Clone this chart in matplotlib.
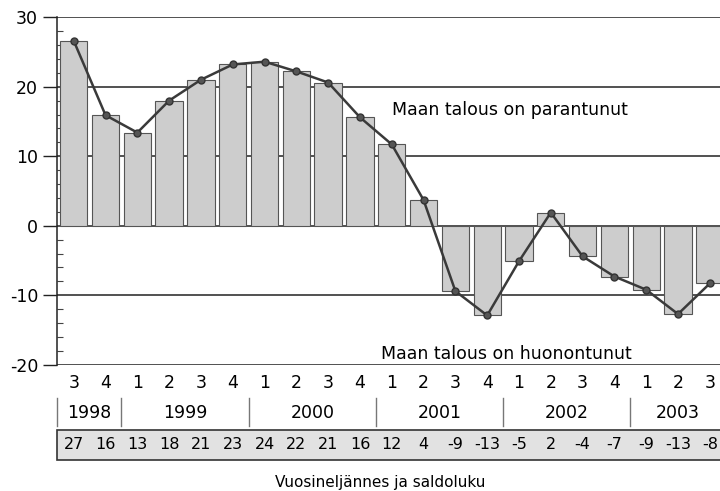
import matplotlib.pyplot as plt
from matplotlib.patches import Rectangle
from matplotlib.ticker import MultipleLocator
import matplotlib.transforms as mtransforms

plt.rcParams['font.family'] = ['Liberation Sans Narrow', 'DejaVu Sans']
plt.rcParams['axes.unicode_minus'] = False

quarters = [3, 4, 1, 2, 3, 4, 1, 2, 3, 4, 1, 2, 3, 4, 1, 2, 3, 4, 1, 2, 3]
years = ['1998', '1999', '2000', '2001', '2002', '2003']
year_centers = [0.5, 3.5, 7.5, 11.5, 15.5, 19.0]
year_breaks = [-0.53, 1.5, 5.5, 9.5, 13.5, 17.5]
saldo = [26.6, 15.9, 13.4, 18.0, 21.0, 23.2, 23.6, 22.2, 20.6, 15.6, 11.7, 3.7,
         -9.4, -12.9, -5.1, 1.9, -4.4, -7.3, -9.2, -12.7, -8.3]

x = list(range(len(saldo)))

fig = plt.figure(figsize=(7.2, 4.91), dpi=100)
ax = fig.add_axes([0.079, 0.257, 0.921, 0.708])

for y in [-20, -10, 0, 10, 20, 30]:
    ax.axhline(y, color='#222222', lw=1.1, zorder=0)

ax.bar(x, saldo, width=0.86, color='#cdcdcd', edgecolor='#555555', lw=0.8, zorder=2)
ax.plot(x, saldo, color='#3a3a3a', lw=1.8, marker='o', ms=5,
        markerfacecolor='#555555', markeredgecolor='#333333', zorder=3)

ax.set_xlim(-0.53, 20.32)
ax.set_ylim(-20, 30)
ax.yaxis.set_major_locator(MultipleLocator(10))
ax.yaxis.set_minor_locator(MultipleLocator(2))
ax.tick_params(axis='y', which='major', direction='out', length=10, width=1,
               labelsize=12.5, color='#222222')
ax.tick_params(axis='y', which='minor', direction='in', length=4, width=0.8,
               color='#444444')
ax.set_xticks([])
for s in ['top', 'right', 'bottom']:
    ax.spines[s].set_visible(False)
ax.spines['left'].set_color('#222222')
ax.spines['left'].set_linewidth(1.1)

ax.text(10.0, 16.7, 'Maan talous on parantunut', fontsize=12.5, va='center')
ax.text(9.65, -18.5, 'Maan talous on huonontunut', fontsize=12.5, va='center')

trans = mtransforms.blended_transform_factory(ax.transData, ax.transAxes)
for xi, q in zip(x, quarters):
    ax.text(xi, -0.052, str(q), transform=trans, ha='center', va='center',
            fontsize=12.5, clip_on=False)
for xc, yr in zip(year_centers, years):
    ax.text(xc, -0.138, yr, transform=trans, ha='center', va='center',
            fontsize=12.5, clip_on=False)
for xb in year_breaks:
    ax.plot([xb, xb], [-0.095, -0.175], transform=trans, color='#777777',
            lw=1, clip_on=False)

box = Rectangle((-0.53, -0.273), 21.5, 0.086, transform=trans,
                facecolor='#e2e2e2', edgecolor='#333333', lw=1.2, clip_on=False)
ax.add_patch(box)
for xi, v in zip(x, saldo):
    ax.text(xi, -0.23, f'{v:.0f}', transform=trans, ha='center', va='center',
            fontsize=11.5, clip_on=False)

fig.text(0.528, 0.018, 'Vuosineljännes ja saldoluku', ha='center', va='center',
         fontsize=11)

fig.savefig('out.png', dpi=100)
